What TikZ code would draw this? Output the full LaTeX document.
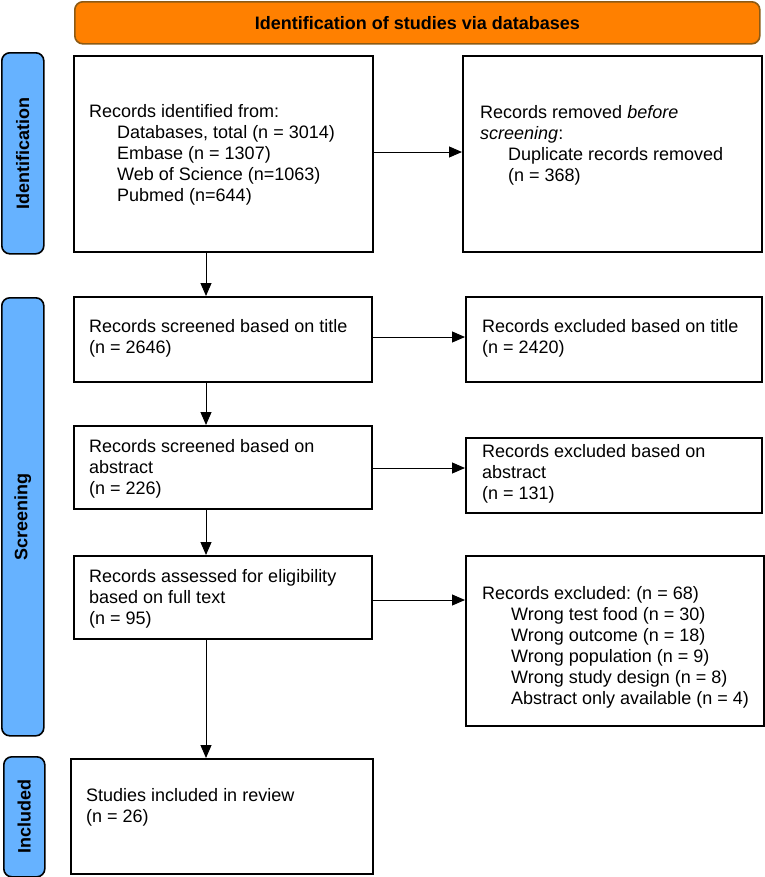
\documentclass[tikz,border=0pt]{standalone}
\usepackage{fontspec}
\setmainfont{Liberation Sans}
\usetikzlibrary{arrows.meta,calc}
\definecolor{bannerfill}{RGB}{255,128,0}
\definecolor{bannerdraw}{RGB}{140,90,20}
\definecolor{sidefill}{RGB}{102,178,255}
\frenchspacing
\begin{document}
\begin{tikzpicture}[x=1bp,y=-1bp,
  box/.style={draw=black, line width=1.6bp, rectangle, inner sep=0pt, anchor=north west},
  txt/.style={anchor=west, align=left, inner sep=0pt, font=\frenchspacing\fontsize{18bp}{21bp}\selectfont},
  side/.style={draw=black, fill=sidefill, line width=1.6bp, rounded corners=8bp, rectangle, inner sep=0pt, anchor=north west},
  sidetxt/.style={rotate=90, inner sep=0pt, font=\bfseries\fontsize{18bp}{21bp}\selectfont},
  banner/.style={draw=bannerdraw, fill=bannerfill, line width=1.6bp, rounded corners=8bp, rectangle, inner sep=0pt, anchor=north west, font=\bfseries\fontsize{18bp}{21bp}\selectfont},
  arr/.style={-{Triangle[length=13bp,width=11bp]}, line width=1bp},
]
\path[use as bounding box] (0,0) rectangle (765,877);

% banner
\node[banner, minimum width=685bp, minimum height=42bp] (ban) at (74,1) {Identification of studies via databases};

% side labels
\node[side, minimum width=42bp, minimum height=201bp] (s1) at (1,52) {};
\node[sidetxt] (s1t) at (s1.center) {Identification};
\node[side, minimum width=42bp, minimum height=438bp] (s2) at (1,297) {};
\node[sidetxt] (s2t) at (s2.center) {Screening};
\node[side, minimum width=41bp, minimum height=120bp] (s3) at (3,756) {};
\node[sidetxt] (s3t) at (s3.center) {Included};

% boxes
\node[box, minimum width=299bp, minimum height=196bp] (b1) at (73,55) {};
\node[box, minimum width=299bp, minimum height=196bp] (r1) at (462,55) {};
\node[box, minimum width=298bp, minimum height=85bp] (b3) at (73,296) {};
\node[box, minimum width=296bp, minimum height=85bp] (r3) at (465,296) {};
\node[box, minimum width=298bp, minimum height=83bp] (b4) at (73,425) {};
\node[box, minimum width=296bp, minimum height=75bp] (r4) at (465,437) {};
\node[box, minimum width=298bp, minimum height=83bp] (b5) at (73,555) {};
\node[box, minimum width=298bp, minimum height=170bp] (r5) at (465,555) {};
\node[box, minimum width=302bp, minimum height=115bp] (bf) at (70,758) {};

% texts
\node[txt] (t1) at (89,155) {Records identified from:\\\hspace*{28bp}Databases, total (n = 3014)\\\hspace*{28bp}Embase (n = 1307)\\\hspace*{28bp}Web of Science (n=1063)\\\hspace*{28bp}Pubmed (n=644)};
\node[txt] (tr1) at (480,145) {Records removed \textit{before}\\\textit{screening}:\\\hspace*{28bp}Duplicate records removed\\\hspace*{28bp}(n = 368)};
\node[txt] (t3) at (89,338) {Records screened based on title\\(n = 2646)};
\node[txt] (tr3) at (482,338) {Records excluded based on title\\(n = 2420)};
\node[txt] (t4) at (89,469) {Records screened based on\\abstract\\(n = 226)};
\node[txt] (tr4) at (482,474) {Records excluded based on\\abstract\\(n = 131)};
\node[txt] (t5) at (89,599) {Records assessed for eligibility\\based on full text\\(n = 95)};
\node[txt] (tr5) at (482,647) {Records excluded: (n = 68)\\\hspace*{29bp}Wrong test food (n = 30)\\\hspace*{29bp}Wrong outcome (n = 18)\\\hspace*{29bp}Wrong population (n = 9)\\\hspace*{29bp}Wrong study design (n = 8)\\\hspace*{29bp}Abstract only available (n = 4)};
\node[txt] (tf) at (86,807) {Studies included in review\\(n = 26)};

% connectors
\coordinate (vx) at (206,0);
\draw[arr] (b1.south -| vx) -- (b3.north -| vx);
\draw[arr] (b3.south -| vx) -- (b4.north -| vx);
\draw[arr] (b4.south -| vx) -- (b5.north -| vx);
\draw[arr] (b5.south -| vx) -- (bf.north -| vx);

\coordinate (h1) at (0,152);
\coordinate (h3) at (0,337);
\coordinate (h4) at (0,468);
\coordinate (h5) at (0,600);
\draw[arr] (b1.east |- h1) -- (r1.west |- h1);
\draw[arr] (b3.east |- h3) -- (r3.west |- h3);
\draw[arr] (b4.east |- h4) -- (r4.west |- h4);
\draw[arr] (b5.east |- h5) -- (r5.west |- h5);
\end{tikzpicture}
\end{document}
